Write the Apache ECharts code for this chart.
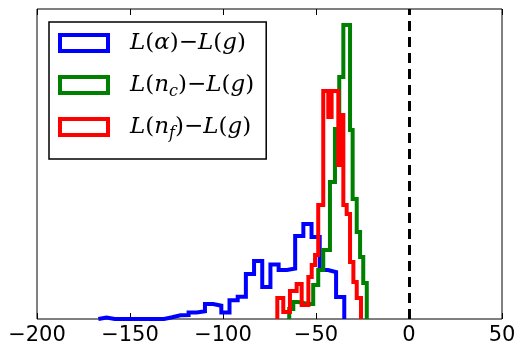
<!DOCTYPE html>
<html>
<head>
<meta charset="utf-8">
<script src="https://cdn.jsdelivr.net/npm/echarts@6/dist/echarts.min.js"></script>
<style>
  html, body { margin: 0; padding: 0; background: #fff; }
  #chart { width: 523px; height: 355px; }
</style>
</head>
<body>
<div id="chart"></div>
<script>
// bin edges and heights (heights in arbitrary units)
var blueEdges = [-167.0, -162.6, -158.2, -153.8, -149.4, -145.0, -140.6, -136.2, -131.7, -127.3,
  -122.9, -118.5, -114.1, -109.7, -105.3, -100.9, -96.5, -92.1, -87.7, -83.3,
  -78.9, -74.5, -70.1, -65.6, -61.2, -56.8, -52.4, -48.0, -43.6, -39.2, -34.8];
var blueCounts = [1.5, 0, 0, 0, 0, 0, 0, 0, 1.7, 3.7, 4, 6.5, 7.7, 15, 13.3, 6.5, 18.7, 22.3, 45, 58,
  32, 54.5, 49, 50.5, 83, 95, 82, 49, 47, 22];

var greenEdges = [-64.4, -62.2, -59.5, -56.8, -54.1, -51.5, -48.8, -46.1, -42.5, -39.8,
  -37.5, -35.3, -31.7, -30.3, -28.1, -26.3, -24.6, -22.7];
var greenCounts = [10, 17, 16, 15, 15, 34, 49, 69, 137, 190, 242, 294, 189, 120, 87, 62, 36];

var redEdges = [-70.8, -67.6, -64.0, -60.4, -57.7, -54.1, -52.3, -50.5, -48.8, -46.1,
  -43.4, -41.6, -38.0, -36.7, -35.3, -33.5, -31.7, -29.9, -28.1, -25.8];
var redCounts = [21, 7, 28, 35, 14, 42, 54, 64, 114, 228, 202, 228, 154, 204, 114, 105, 57, 37, 21];

var names = ['L(α)−L(g)', 'L(n_c)−L(g)', 'L(n_f)−L(g)'];
var colors = ['#0000ff', '#008000', '#ff0000'];

// step outline like a matplotlib 'step' histogram
function steps(edges, counts) {
  var pts = [[edges[0], 0]];
  for (var i = 0; i < counts.length; i++) {
    pts.push([edges[i], counts[i]]);
    pts.push([edges[i + 1], counts[i]]);
  }
  pts.push([edges[edges.length - 1], 0]);
  return pts;
}

function histSeries(name, color, edges, counts) {
  return {
    name: name,
    type: 'line',
    data: steps(edges, counts),
    symbol: 'none',
    clip: true,
    lineStyle: { color: color, width: 4, join: 'miter' },
    itemStyle: { color: color },
    animation: false
  };
}

var legendText = {};
legendText[names[0]] = '{sp|}{it|L}{rm|(}{it|α}{rm|)−}{it|L}{rm|(}{it|g}{rm|)}';
legendText[names[1]] = '{sp|}{it|L}{rm|(}{it|n}{sub|c}{rm|)−}{it|L}{rm|(}{it|g}{rm|)}';
legendText[names[2]] = '{sp|}{it|L}{rm|(}{it|n}{sub|f}{rm|)−}{it|L}{rm|(}{it|g}{rm|)}';

var myChart = echarts.init(document.getElementById('chart'));
var blue = histSeries(names[0], colors[0], blueEdges, blueCounts);
blue.markLine = {
  silent: true,
  symbol: 'none',
  label: { show: false },
  lineStyle: { color: '#000', width: 3, type: [10, 6] },
  data: [{ xAxis: 0 }]
};

var option = {
  animation: false,
  grid: {
    left: 37, right: 21, top: 9, bottom: 36,
    show: true, borderColor: '#000', borderWidth: 1, backgroundColor: '#fff'
  },
  xAxis: [{
    type: 'value',
    min: -200, max: 50, interval: 50,
    axisLine: { show: false },
    axisTick: { inside: true, length: 6, lineStyle: { color: '#000' } },
    splitLine: { show: false },
    axisLabel: {
      margin: 6,
      color: '#000',
      fontFamily: 'DejaVu Sans',
      fontSize: 21,
      formatter: function(v) { return String(v).replace('-', '\u2212'); }
    }
  }, {
    type: 'value',
    position: 'top',
    min: -200, max: 50, interval: 50,
    axisLine: { show: false },
    axisTick: { inside: true, length: 6, lineStyle: { color: '#000' } },
    splitLine: { show: false },
    axisLabel: { show: false }
  }],
  yAxis: {
    type: 'value',
    min: 0, max: 310,
    axisLine: { show: false },
    axisTick: { show: false },
    axisLabel: { show: false },
    splitLine: { show: false }
  },
  legend: {
    orient: 'vertical',
    left: 49, top: 22,
    padding: [6, 12, 17, 9],
    itemGap: 12,
    itemWidth: 48,
    itemHeight: 16,
    borderColor: '#000',
    borderWidth: 1.5,
    backgroundColor: '#fff',
    data: names.map(function(n, i) {
      return {
        name: n,
        icon: 'rect',
        itemStyle: { color: '#fff', borderColor: colors[i], borderWidth: 4 }
      };
    }),
    formatter: function(name) { return legendText[name]; },
    textStyle: {
      color: '#000',
      lineHeight: 30,
      rich: {
        sp: { width: 17, lineHeight: 30 },
        it: { fontFamily: 'DejaVu Serif', fontStyle: 'italic', fontSize: 23, lineHeight: 30, color: '#000' },
        rm: { fontFamily: 'DejaVu Serif', fontSize: 23, lineHeight: 30, color: '#000' },
        sub: { fontFamily: 'DejaVu Serif', fontStyle: 'italic', fontSize: 16, lineHeight: 16, verticalAlign: 'bottom', color: '#000' }
      }
    }
  },
  series: [
    blue,
    histSeries(names[1], colors[1], greenEdges, greenCounts),
    histSeries(names[2], colors[2], redEdges, redCounts)
  ]
};
myChart.setOption(option);
</script>
</body>
</html>
